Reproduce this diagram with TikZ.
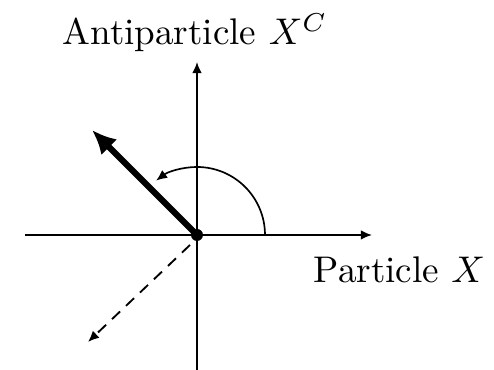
\documentclass[tikz,border=0pt]{standalone}
\usetikzlibrary{arrows.meta}
\begin{document}
\begin{tikzpicture}[x=0.2695pt,y=-0.2695pt,
  axis/.style={line width=0.5pt,-{Latex[length=3pt,width=2.6pt]}},
  bold/.style={line width=1.7pt,-{Latex[length=6.5pt,width=6pt]}},
  dashedarrow/.style={line width=0.5pt,dash pattern=on 3pt off 2.2pt,-{Latex[length=3pt,width=2.6pt]}},
  turn/.style={line width=0.45pt,-{Latex[length=3pt,width=2.6pt]}},
  lbl/.style={inner sep=0pt,font=\normalsize}]
\useasboundingbox (0,0) rectangle (494,370);
\coordinate (O) at (197,235);
\coordinate (L) at (25,235);
\coordinate (R) at (372,235);
\coordinate (B) at (197,372);
\coordinate (T) at (197,62);
\coordinate (A) at (92,130);
\coordinate (D) at (88,342);
\coordinate (Ds) at (190,245);
\coordinate (S) at (265,235);
\draw[axis] (L) -- (R);
\draw[axis] (B) -- (T);
\draw[turn] (S) arc[start angle=0,end angle=-127,radius=68];
\draw[bold] (O) -- (A);
\draw[dashedarrow] (Ds) -- (D);
\fill (O) circle[radius=6];
\node[lbl,anchor=base] (anti) at (195,45) {Antiparticle $X^C$};
\node[lbl,anchor=base west] (part) at (313,283) {Particle $X$};
\end{tikzpicture}
\end{document}
